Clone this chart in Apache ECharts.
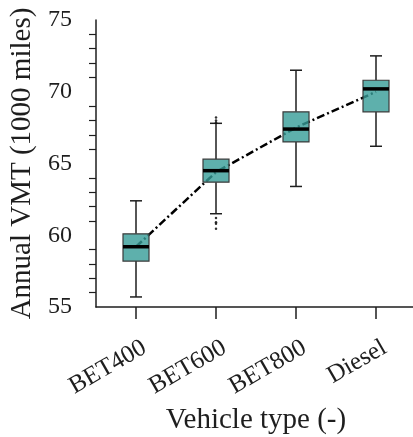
<!DOCTYPE html>
<html>
<head>
<meta charset="utf-8">
<script src="https://cdn.jsdelivr.net/npm/echarts@6/dist/echarts.min.js"></script>
<style>
html, body { margin: 0; padding: 0; background: #fff; }
#echart { width: 413px; height: 437px; }
</style>
</head>
<body>
<div id="echart"></div>
<script>
// Data
var categories = ['BET400', 'BET600', 'BET800', 'Diesel'];
var whiskerLow = [55.7, 61.5, 63.4, 66.2];
var q1 = [58.2, 63.7, 66.5, 68.6];
var median = [59.2, 64.5, 67.4, 70.2];
var q3 = [60.1, 65.3, 68.6, 70.8];
var whiskerHigh = [62.4, 67.8, 71.5, 72.5];
var means = [59.2, 64.4, 67.5, 70.0];
// outliers: [category index, value]
var outliers = [[1, 68.2], [1, 68.0], [1, 67.85], [1, 61.2], [1, 60.9], [1, 60.8], [1, 60.45]];

var boxData = [];
for (var i = 0; i < categories.length; i++) {
	boxData.push([i, whiskerLow[i], q1[i], median[i], q3[i], whiskerHigh[i]]);
}

var font = 'Liberation Serif';
var ink = '#1e1e1e';

function renderBox(params, api) {
	var x = api.value(0);
	var pLow = api.coord([x, api.value(1)]);
	var pQ1 = api.coord([x, api.value(2)]);
	var pMed = api.coord([x, api.value(3)]);
	var pQ3 = api.coord([x, api.value(4)]);
	var pHigh = api.coord([x, api.value(5)]);
	var cx = pMed[0];
	var halfW = 13;
	var capHalf = 6;
	var stroke = { stroke: ink, lineWidth: 1.5 };
	return {
		type: 'group',
		children: [
			{ type: 'line', shape: { x1: cx, y1: pLow[1], x2: cx, y2: pQ1[1] }, style: stroke },
			{ type: 'line', shape: { x1: cx, y1: pQ3[1], x2: cx, y2: pHigh[1] }, style: stroke },
			{ type: 'line', shape: { x1: cx - capHalf, y1: pLow[1], x2: cx + capHalf, y2: pLow[1] }, style: stroke },
			{ type: 'line', shape: { x1: cx - capHalf, y1: pHigh[1], x2: cx + capHalf, y2: pHigh[1] }, style: stroke },
			{ type: 'rect', shape: { x: cx - halfW, y: pQ3[1], width: halfW * 2, height: pQ1[1] - pQ3[1] },
				style: { fill: 'rgba(54,156,151,0.8)', stroke: '#3a3a3a', lineWidth: 1.2 } },
			{ type: 'line', shape: { x1: cx - halfW, y1: pMed[1], x2: cx + halfW, y2: pMed[1] },
				style: { stroke: '#000', lineWidth: 3.5 } }
		]
	};
}

var myChart = echarts.init(document.getElementById('echart'));
var option = {
	backgroundColor: '#fff',
	animation: false,
	grid: {
		left: 96,
		top: 20,
		width: 320,
		bottom: 130,
		outerBoundsMode: 'none'
	},
	xAxis: {
		type: 'category',
		data: categories,
		boundaryGap: true,
		name: 'Vehicle type (-)',
		nameLocation: 'middle',
		nameGap: 94,
		nameTextStyle: { fontFamily: font, fontSize: 29, color: ink },
		axisLine: { lineStyle: { color: ink, width: 1.5 } },
		axisTick: { show: true, interval: 0, alignWithLabel: true, length: 12, lineStyle: { color: ink, width: 1.5 } },
		axisLabel: { interval: 0, rotate: 30, margin: 44, padding: [26, -10, 0, 0], fontFamily: font, fontSize: 25, color: ink },
		splitLine: { show: false }
	},
	yAxis: {
		type: 'value',
		min: 55,
		max: 75,
		interval: 5,
		name: 'Annual VMT (1000 miles)',
		nameLocation: 'middle',
		nameGap: 57,
		nameTextStyle: { fontFamily: font, fontSize: 29, color: ink },
		axisLine: { show: true, lineStyle: { color: ink, width: 1.5 } },
		axisTick: { length: 13, lineStyle: { color: ink, width: 1.5 } },
		minorTick: { show: true, splitNumber: 5, length: 7, lineStyle: { color: ink, width: 1.2 } },
		axisLabel: { margin: 24, fontFamily: font, fontSize: 24, color: ink },
		splitLine: { show: false }
	},
	series: [{
		name: 'mean',
		type: 'line',
		data: means,
		z: 1,
		symbol: 'none',
		lineStyle: { color: '#000', width: 2.5, type: [8, 3, 2, 3] }
	}, {
		name: 'box',
		type: 'custom',
		z: 3,
		renderItem: renderBox,
		encode: { x: 0, y: [1, 2, 3, 4, 5] },
		data: boxData
	}, {
		name: 'outliers',
		type: 'scatter',
		z: 4,
		symbolSize: 2.5,
		itemStyle: { color: '#000' },
		data: outliers
	}]
};
myChart.setOption(option);
</script>
</body>
</html>
